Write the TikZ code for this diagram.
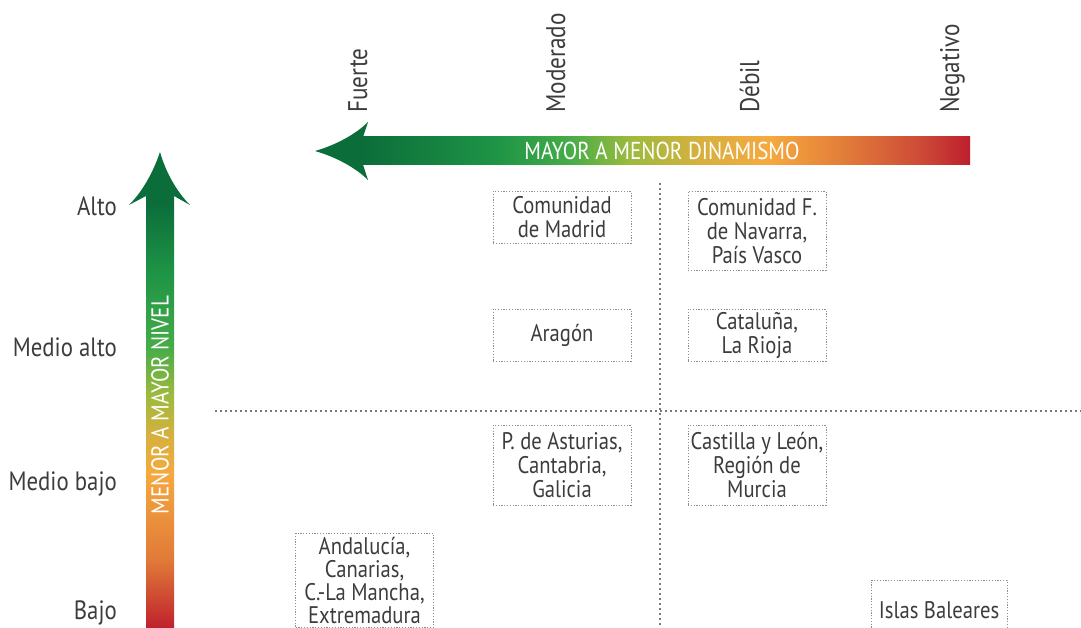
\documentclass[tikz,border=0pt]{standalone}
\usepackage{fontspec}
\setmainfont{PT Sans}[FakeStretch=0.86]

\definecolor{texto}{HTML}{3C3C3C}
\definecolor{gris}{HTML}{8E8E8E}
\definecolor{grisoscuro}{HTML}{7A7A7A}
\definecolor{verdeosc}{HTML}{0B6D3A}
\definecolor{verde}{HTML}{1E9446}
\definecolor{verdeclaro}{HTML}{45AC48}
\definecolor{verdeamar}{HTML}{9CBA3E}
\definecolor{amarillo}{HTML}{D4B13E}
\definecolor{naranja}{HTML}{F6A93F}
\definecolor{naranjarojo}{HTML}{E07A38}
\definecolor{rojoclaro}{HTML}{CD4A37}
\definecolor{rojo}{HTML}{BE1E2D}

\pgfdeclarehorizontalshading{degradadoh}{100bp}{color(0bp)=(verdeosc); color(25bp)=(verdeosc); color(36bp)=(verde); color(42bp)=(verdeclaro); color(47bp)=(verdeamar); color(52.5bp)=(amarillo); color(58.5bp)=(naranja); color(65bp)=(naranjarojo); color(71bp)=(rojoclaro); color(75bp)=(rojo); color(100bp)=(rojo)}
\pgfdeclareverticalshading{degradadov}{100bp}{color(0bp)=(rojo); color(25bp)=(rojo); color(33bp)=(naranjarojo); color(43bp)=(naranja); color(47.5bp)=(amarillo); color(52bp)=(verdeamar); color(57.5bp)=(verdeclaro); color(66bp)=(verde); color(74bp)=(verdeosc); color(100bp)=(verdeosc)}

\begin{document}
\begin{tikzpicture}[x=1pt,y=-1pt,font=\fontsize{24}{24}\selectfont,color=texto]
	\tikzstyle{caja}=[draw=gris,dash pattern=on 1.2pt off 1.6pt,line width=0.9pt,minimum width=138pt,align=center,inner sep=0pt,anchor=north]
	\tikzstyle{nivel}=[anchor=base east,inner sep=0pt,font=\fontsize{26.5}{26.5}\selectfont]
	\tikzstyle{grado}=[rotate=90,anchor=base west,inner sep=0pt,font=\fontsize{27}{27}\selectfont]
	\tikzstyle{eje}=[draw=grisoscuro,line width=2pt,dash pattern=on 2pt off 3pt]
	\tikzstyle{rotulo}=[white,inner sep=0pt,font=\fontsize{24.5}{24.5}\selectfont]

	\clip (0,0) rectangle (1081,628);

	% flecha horizontal
	\shade[shading=degradadoh] (362,137) rectangle (970,164.5);
	\fill[verdeosc] (315,151) .. controls (336,145) and (356,134) .. (368,122) -- (363,137) -- (363,164.5) -- (368,180) .. controls (356,168) and (336,157) .. (315,151) -- cycle;
	\node[rotulo](dinamismo) at (662,151){MAYOR A MENOR DINAMISMO};

	% flecha vertical
	\shade[shading=degradadov] (146,194) rectangle (174,630);
	\fill[verdeosc] (160,152) .. controls (166,173) and (177,192) .. (190,205) -- (174,196) -- (146,196) -- (129,205) .. controls (142,192) and (153,173) .. (160,152) -- cycle;
	\node[rotulo,rotate=90](nivel) at (160,405){MENOR A MAYOR NIVEL};

	\node[grado](fuerte) at (367,113){Fuerte};
	\node[grado](moderado) at (565,113){Moderado};
	\node[grado](debil) at (759,113){Débil};
	\node[grado](negativo) at (959,113){Negativo};

	\node[nivel](alto) at (117,216){Alto};
	\node[nivel](medioalto) at (117,356){Medio alto};
	\node[nivel](mediobajo) at (117,490){Medio bajo};
	\node[nivel](bajo) at (117,619){Bajo};

	% ejes punteados
	\coordinate (vsup) at (660,183);
	\coordinate (vinf) at (660,628);
	\coordinate (hizq) at (215,411);
	\coordinate (hder) at (1081,411);
	\draw[eje] (vsup) -- (vinf);
	\draw[eje] (hizq) -- (hder);

	\node[caja,minimum height=52](madrid) at (562,191){Comunidad\\de Madrid};
	\node[caja,minimum height=79](navarra) at (757,191){Comunidad F.\\de Navarra,\\País Vasco};
	\node[caja,minimum height=52](aragon) at (562,309){Aragón};
	\node[caja,minimum height=52](cataluna) at (757,309){Cataluña,\\La Rioja};
	\node[caja,minimum height=80](asturias) at (562,425){P. de Asturias,\\Cantabria,\\Galicia};
	\node[caja,minimum height=80](castilla) at (757,425){Castilla y León,\\Región de\\Murcia};
	\node[caja,minimum height=94,font=\fontsize{24}{23}\selectfont](andalucia) at (364.5,533){Andalucía,\\Canarias,\\C.-La Mancha,\\Extremadura};
	\node[caja,minimum width=136,minimum height=60](baleares) at (939,580){Islas Baleares};
\end{tikzpicture}
\end{document}
